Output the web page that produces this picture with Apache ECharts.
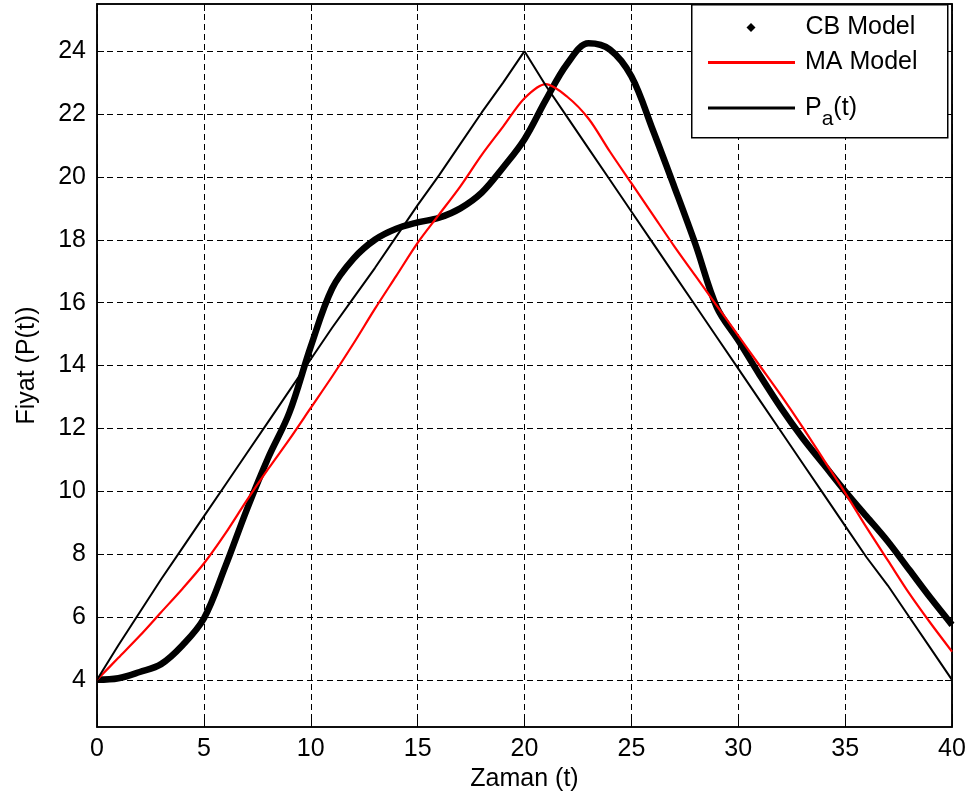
<!DOCTYPE html>
<html>
<head>
<meta charset="utf-8">
<script src="https://cdn.jsdelivr.net/npm/echarts@6/dist/echarts.min.js"></script>
<style>
html,body{margin:0;padding:0;background:#fff;}
#chart{width:969px;height:806px;}
</style>
</head>
<body>
<div id="chart"></div>
<script>
// ---- data ----
const tValues = [0,1,2,3,4,5,6,7,8,9,10,11,12,13,14,15,16,17,18,19,20,21,22,23,24,25,26,27,28,29,30,31,32,33,34,35,36,37,38,39,40];
const cbValues = [4.0,4.05,4.25,4.5,5.1,5.95,7.6,9.4,11.05,12.5,14.6,16.45,17.4,18.0,18.35,18.55,18.7,19.0,19.5,20.3,21.2,22.45,23.6,24.25,24.05,23.2,21.5,19.7,17.85,15.85,14.8,13.7,12.65,11.7,10.85,10.0,9.2,8.4,7.5,6.6,5.75];
const maValues = [4.0,4.7,5.4,6.15,6.9,7.7,8.65,9.7,10.7,11.65,12.65,13.65,14.7,15.8,16.85,17.9,18.8,19.7,20.7,21.6,22.5,22.95,22.55,21.85,20.8,19.8,18.8,17.8,16.85,15.9,14.95,14.0,13.05,12.05,11.0,9.95,8.85,7.8,6.75,5.8,4.9];
const paValues = [4.0,5.1,6.15,7.2,8.2,9.2,10.2,11.2,12.2,13.2,14.2,15.2,16.15,17.1,18.1,19.1,20.05,21.05,22.05,23.0,24.0,22.9,21.9,20.9,19.9,18.9,17.9,16.9,15.9,14.9,13.9,12.9,11.9,10.9,9.9,8.9,7.9,7.0,6.0,5.0,4.0];
const xTicks = [0,5,10,15,20,25,30,35,40];
const yTicks = [4,6,8,10,12,14,16,18,20,22,24];
const seriesNames = ['CB Model','MA Model','Pa(t)'];
const xTitle = 'Zaman (t)';
const yTitle = 'Fiyat (P(t))';

const FONT = "'Liberation Sans', Arial, Helvetica, sans-serif";
const pairs = vals => tValues.map((t, i) => [t, vals[i]]);

const chart = echarts.init(document.getElementById('chart'), null, {renderer: 'canvas'});

const gridLine = {show: true, lineStyle: {color: '#000', width: 1, type: [6, 4]}};
const tickStyle = {show: true, inside: true, length: 7, lineStyle: {color: '#000', width: 1}};
const axisLine = {show: true, onZero: false, lineStyle: {color: '#000', width: 1.5}};
const legendText = {fontFamily: FONT, fontSize: 25, color: '#000'};

chart.setOption({
  animation: false,
  backgroundColor: '#fff',
  grid: {left: 97, right: 17, top: 4, bottom: 79, show: true, borderColor: '#000', borderWidth: 1.5, backgroundColor: '#fff'},
  xAxis: [
    {type: 'value', min: 0, max: 40, interval: 5, position: 'bottom',
     axisLine: axisLine, axisTick: tickStyle, splitLine: gridLine,
     axisLabel: {fontFamily: FONT, fontSize: 25, color: '#000', margin: 10, customValues: xTicks},
     name: xTitle, nameLocation: 'middle', nameGap: 40,
     nameTextStyle: {fontFamily: FONT, fontSize: 25, color: '#000'}},
    {type: 'value', min: 0, max: 40, interval: 5, position: 'top',
     axisLine: axisLine, axisTick: tickStyle, splitLine: {show: false}, axisLabel: {show: false}}
  ],
  yAxis: [
    {type: 'value', min: 2.5, max: 25.5, position: 'left',
     axisLine: axisLine,
     axisTick: Object.assign({customValues: yTicks}, tickStyle),
     splitLine: gridLine,
     axisLabel: {fontFamily: FONT, fontSize: 25, color: '#000', margin: 11, customValues: yTicks},
     name: yTitle, nameLocation: 'middle', nameGap: 57,
     nameTextStyle: {fontFamily: FONT, fontSize: 25, color: '#000'}},
    {type: 'value', min: 2.5, max: 25.5, position: 'right',
     axisLine: axisLine,
     axisTick: Object.assign({customValues: yTicks}, tickStyle),
     splitLine: {show: false}, axisLabel: {show: false}}
  ],
  graphic: [
    {type: 'rect', left: 691, top: 4, z: 3,
     shape: {width: 256, height: 133},
     style: {fill: '#fff', stroke: '#000', lineWidth: 1.5}}
  ],
  legend: [
    {orient: 'vertical', left: 746.5, top: 15, padding: 0, selectedMode: false,
     itemWidth: 9, itemHeight: 9, icon: 'diamond',
     data: [seriesNames[0]],
     textStyle: Object.assign({padding: [0, 0, 0, 45]}, legendText)},
    {orient: 'vertical', left: 708, top: 50, padding: 0, selectedMode: false,
     itemWidth: 87, itemHeight: 3, icon: 'rect',
     data: [seriesNames[1]],
     textStyle: Object.assign({padding: [0, 0, 0, 5]}, legendText)},
    {orient: 'vertical', left: 708, top: 95.5, padding: 0, selectedMode: false,
     itemWidth: 87, itemHeight: 3, icon: 'rect',
     data: [seriesNames[2]],
     formatter: function (name) { return '{p|P}{s|a}{p|(t)}'; },
     textStyle: Object.assign({padding: [0, 0, 0, 5],
       rich: {
         p: {fontFamily: FONT, fontSize: 25, color: '#000', lineHeight: 44, verticalAlign: 'middle'},
         s: {fontFamily: FONT, fontSize: 21, color: '#000', lineHeight: 20, verticalAlign: 'bottom'}
       }}, legendText)}
  ],
  series: [
    {name: seriesNames[0], type: 'line', data: pairs(cbValues), smooth: 0.35,
     symbol: 'diamond', showSymbol: false, z: 2,
     lineStyle: {color: '#000', width: 6.5}, itemStyle: {color: '#000'}},
    {name: seriesNames[1], type: 'line', data: pairs(maValues), smooth: 0.3,
     symbol: 'none', z: 2,
     lineStyle: {color: '#ff0000', width: 2.2}, itemStyle: {color: '#ff0000'}},
    {name: seriesNames[2], type: 'line', data: pairs(paValues), smooth: false,
     symbol: 'none', z: 2,
     lineStyle: {color: '#000', width: 2}, itemStyle: {color: '#000'}}
  ]
});
</script>
</body>
</html>
